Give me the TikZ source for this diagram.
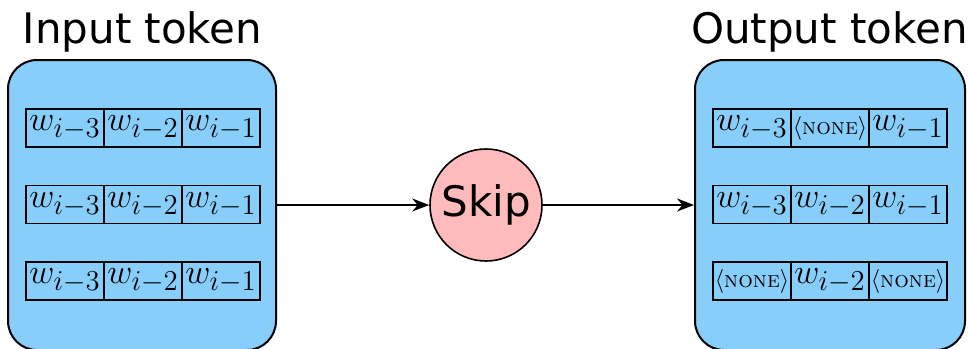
\documentclass[tikz,border=0pt]{standalone}
\usepackage{fontspec}
\usepackage{amsmath}
\usetikzlibrary{positioning,arrows.meta}
\newfontfamily\labelfont{DejaVu Sans}
\definecolor{tokblue}{RGB}{135,206,250}
\definecolor{skippink}{RGB}{255,187,187}
% larger subscripts for the token cells
\DeclareMathSizes{17.5}{17.5}{14.5}{10}
\newcommand{\none}{{\fontsize{11.5}{13}\selectfont$\langle$\textsc{none}$\rangle$}}

\tikzset{
  title/.style={font=\labelfont\fontsize{21}{25}\selectfont, anchor=base, inner sep=0pt},
  tokbox/.style={draw, line width=1pt, fill=tokblue, rounded corners=14.5pt,
                 minimum width=134pt, minimum height=145pt},
  cell/.style={draw, line width=0.8pt, minimum width=39pt, minimum height=19pt,
               inner sep=0pt, outer sep=0pt, font=\fontsize{17.5}{21}\selectfont},
  skipnode/.style={draw, circle, line width=0.8pt, fill=skippink, minimum size=56pt,
                   inner sep=0pt, font=\labelfont\fontsize{21}{25}\selectfont},
  arrow/.style={-{Stealth[length=8.5pt, width=6.5pt]}, line width=0.8pt}
}

\begin{document}
\begin{tikzpicture}[x=0.5pt, y=-0.5pt]
  \useasboundingbox (0,0) rectangle (969,348);

  % titles
  \node[title] (intitle) at (142.5,43) {Input token};
  \node[title] (outtitle) at (829.5,43) {Output token};

  % token boxes
  \node[tokbox] (inbox) at (142,205) {};
  \node[tokbox, minimum width=135pt] (outbox) at (830,205) {};

  % input rows, all the same
  \foreach \r/\y in {a/128, b/204.5, c/281} {
    \node[cell] (in\r1) at (65,\y) {$w_{i-3}$};
    \node[cell, right=0pt of in\r1] (in\r2) {$w_{i-2}$};
    \node[cell, right=0pt of in\r2] (in\r3) {$w_{i-1}$};
  }

  % output rows
  \node[cell] (outa1) at (752,128) {$w_{i-3}$};
  \node[cell, right=0pt of outa1] (outa2) {\none};
  \node[cell, right=0pt of outa2] (outa3) {$w_{i-1}$};

  \node[cell] (outb1) at (752,204.5) {$w_{i-3}$};
  \node[cell, right=0pt of outb1] (outb2) {$w_{i-2}$};
  \node[cell, right=0pt of outb2] (outb3) {$w_{i-1}$};

  \node[cell] (outc1) at (752,281) {\none};
  \node[cell, right=0pt of outc1] (outc2) {$w_{i-2}$};
  \node[cell, right=0pt of outc2] (outc3) {\none};

  % skip step in the middle
  \node[skipnode] (skip) at (486,205) {Skip};

  \draw[arrow] (inbox.east) -- (skip);
  \draw[arrow] (skip) -- (outbox.west);
\end{tikzpicture}
\end{document}
